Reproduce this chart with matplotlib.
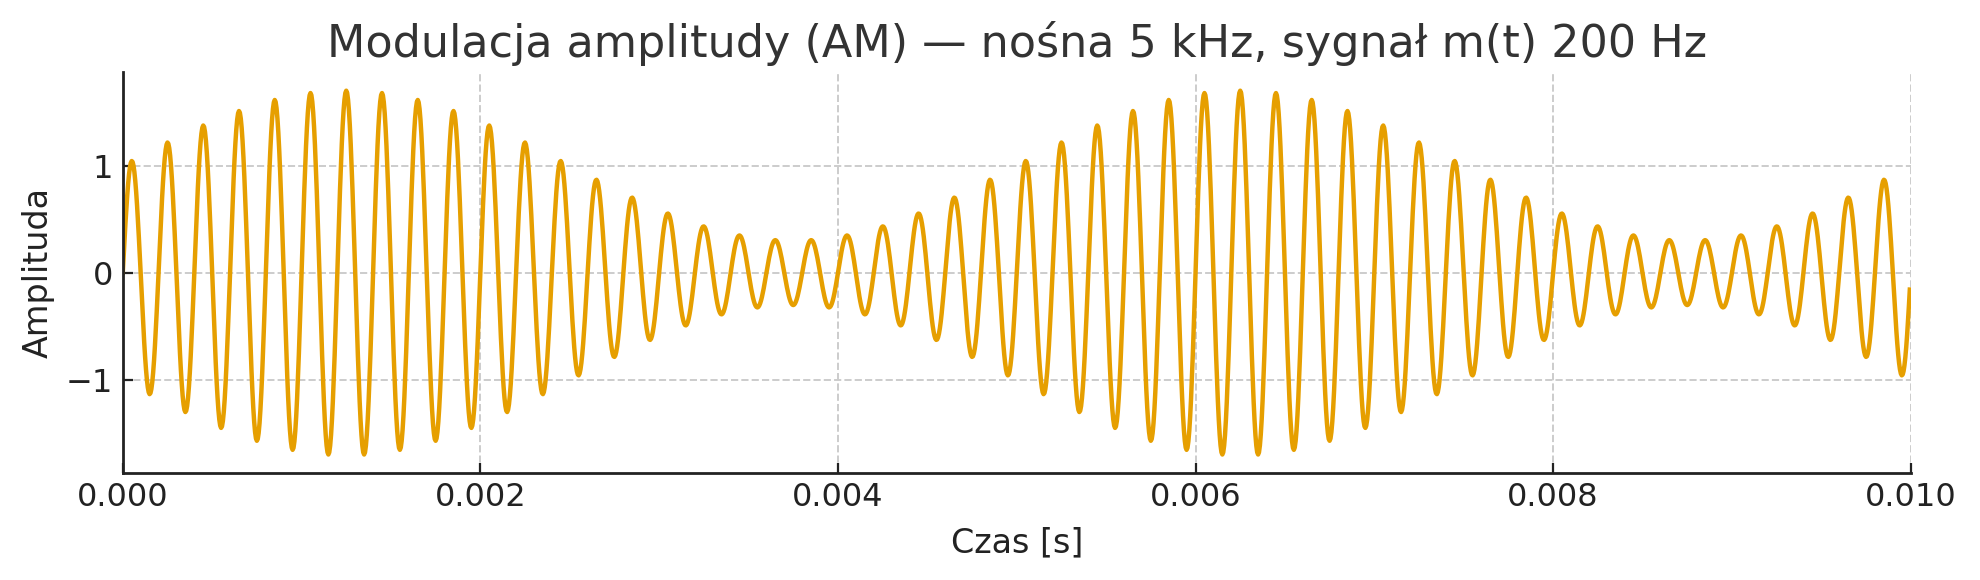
import numpy as np
import matplotlib
matplotlib.use("Agg")
import matplotlib.pyplot as plt

# parametry sygnału (z tytułu wykresu)
carrier_hz = 5000      # nośna
message_hz = 200       # sygnał m(t)
mod_index = 0.7
fs = 200000            # próbkowanie
duration = 0.01

t = np.arange(0, duration, 1 / fs)
m = np.sin(2 * np.pi * message_hz * t)
am = (1 + mod_index * m) * np.sin(2 * np.pi * carrier_hz * t)

fig, ax = plt.subplots(figsize=(9.9, 2.9), dpi=200)
fig.subplots_adjust(left=0.062, right=0.965, top=0.875, bottom=0.185)

ax.plot(t, am, color="#E69F00", lw=1.6)

ax.set_xlim(0, duration)
ax.set_xticks([0, 0.002, 0.004, 0.006, 0.008, 0.010])
ax.set_xticklabels(["0.000", "0.002", "0.004", "0.006", "0.008", "0.010"])
ax.set_yticks([-1, 0, 1])
ax.set_yticklabels(["\u22121", "0", "1"])

ax.grid(True, linestyle="--", color="#cccccc", linewidth=0.7)
ax.set_axisbelow(True)
for s in ["top", "right"]:
    ax.spines[s].set_visible(False)
for s in ["left", "bottom"]:
    ax.spines[s].set_linewidth(1.0)
    ax.spines[s].set_color("#222222")
ax.tick_params(labelsize=11.5, colors="#222222", length=3.5, direction="in")

ax.set_title("Modulacja amplitudy (AM) \u2014 no\u015bna 5 kHz, sygna\u0142 m(t) 200 Hz",
             fontsize=16, color="#333333", pad=5.5)
ax.set_xlabel("Czas [s]", fontsize=12, color="#222222", labelpad=4.5)
ax.set_ylabel("Amplituda", fontsize=12, color="#222222", labelpad=4)

fig.savefig("out.png", dpi=200)
